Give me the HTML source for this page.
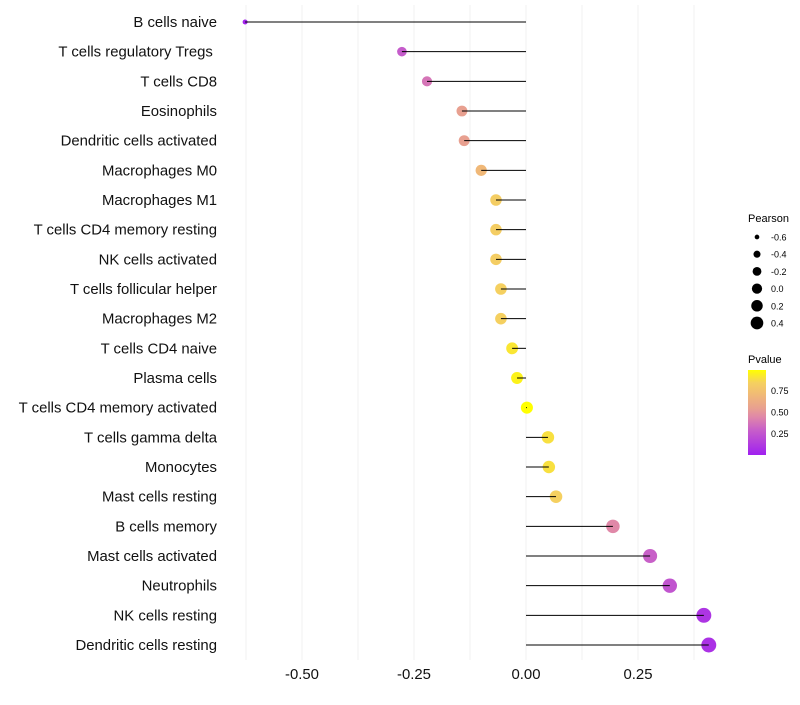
<!DOCTYPE html>
<html><head><meta charset="utf-8"><style>
body{margin:0;background:#fff;}
svg{font-family:"Liberation Sans",sans-serif;}
</style></head><body>
<svg id="c" width="800" height="700">
<defs><linearGradient id="pg" x1="0" y1="1" x2="0" y2="0">
<stop offset="0" stop-color="#a020f0"/><stop offset="0.3" stop-color="#c860c8"/><stop offset="0.45" stop-color="#e088a8"/><stop offset="0.55" stop-color="#e8a090"/><stop offset="0.7" stop-color="#f0b878"/><stop offset="0.85" stop-color="#f5d060"/><stop offset="1" stop-color="#ffff00"/>
</linearGradient></defs>
<g id="grid"></g><g id="marks"></g><g id="labels"></g><g id="legend"></g>
</svg>
<script>
const categories=["B cells naive","T cells regulatory  Tregs\u00a0","T cells CD8","Eosinophils","Dendritic cells activated","Macrophages M0","Macrophages M1","T cells CD4 memory resting","NK cells activated","T cells follicular helper","Macrophages M2","T cells CD4 naive","Plasma cells","T cells CD4 memory activated","T cells gamma delta","Monocytes","Mast cells resting","B cells memory","Mast cells activated","Neutrophils","NK cells resting","Dendritic cells resting"];
const pearson=[-0.627,-0.277,-0.221,-0.143,-0.138,-0.100,-0.067,-0.067,-0.067,-0.056,-0.056,-0.031,-0.020,0.002,0.049,0.051,0.067,0.194,0.277,0.321,0.397,0.408];
const pvalue=[0.02,0.28,0.38,0.55,0.55,0.7,0.83,0.83,0.83,0.85,0.85,0.92,0.96,1.0,0.9,0.9,0.85,0.45,0.3,0.25,0.1,0.08];
const xTicks=[-0.5,-0.25,0,0.25];
const xTickLabels=["-0.50","-0.25","0.00","0.25"];
const sizeBreaks=[-0.6,-0.4,-0.2,0.0,0.2,0.4];
const sizeLabels=["-0.6","-0.4","-0.2","0.0","0.2","0.4"];
const pTicks=[0.75,0.5,0.25];
const pTickLabels=["0.75","0.50","0.25"];
const NS="http://www.w3.org/2000/svg";
const x=v=>526+v*448;
const y=i=>22+i*(623/21);
const rad=v=>Math.sqrt(Math.max(1,6.25+48*(v+0.627)));
const stops=[[0,[160,32,240]],[0.3,[200,96,200]],[0.45,[224,136,168]],[0.55,[232,160,144]],[0.7,[240,184,120]],[0.85,[245,208,96]],[1,[255,255,0]]];
function col(p){for(let k=1;k<stops.length;k++){if(p<=stops[k][0]){const a=stops[k-1],b=stops[k];const t=(p-a[0])/(b[0]-a[0]);const c=a[1].map((v,i)=>Math.round(v+(b[1][i]-v)*t));return `rgb(${c})`;}}return 'rgb(255,255,0)';}
function el(t,a,par){const e=document.createElementNS(NS,t);for(const k in a)e.setAttribute(k,a[k]);document.getElementById(par).appendChild(e);return e;}
for(let v=-0.625;v<=0.44;v+=0.125){const g=el('line',{x1:x(v),x2:x(v),y1:5,y2:660,stroke:'#f0f0f0','stroke-width':1},'grid');

}
xTicks.forEach((v,i)=>{const t=el('text',{x:x(v),y:679,'text-anchor':'middle','font-size':14.9,fill:'#111'},'labels');t.textContent=xTickLabels[i];

});
categories.forEach((c,i)=>{
const t=el('text',{x:217,y:y(i)+5,'text-anchor':'end','font-size':14.9,fill:'#111','xml:space':'preserve'},'labels');t.textContent=c;


const p=el('circle',{cx:x(pearson[i]),cy:y(i),r:rad(pearson[i]),fill:col(pvalue[i])},'marks');


const l=el('line',{x1:x(0),x2:x(pearson[i]),y1:y(i),y2:y(i),stroke:'#000','stroke-width':1},'marks');


});
let t=el('text',{x:748,y:222,'font-size':11},'legend');t.textContent='Pearson';


sizeBreaks.forEach((v,i)=>{const cy=237+i*17.2;
const c=el('circle',{cx:757,cy:cy,r:rad(v)*0.85,fill:'#000'},'legend');


const l=el('text',{x:771,y:cy+3.5,'font-size':9},'legend');l.textContent=sizeLabels[i];

});
t=el('text',{x:748,y:363,'font-size':11},'legend');t.textContent='Pvalue';


const r=el('rect',{x:748,y:370,width:18,height:85,fill:'url(#pg)'},'legend');


pTicks.forEach((v,i)=>{const yy=455-v*86;
const l=el('text',{x:771,y:yy+3.5,'font-size':9},'legend');l.textContent=pTickLabels[i];

});
</script>
</body></html>
